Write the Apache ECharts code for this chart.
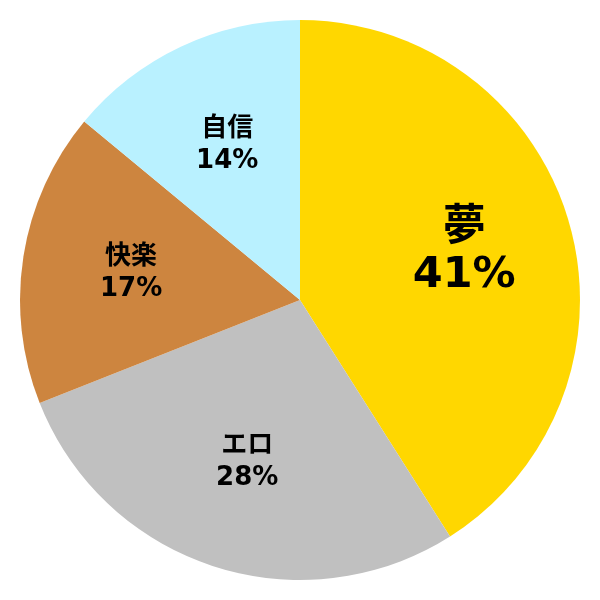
<!DOCTYPE html>
<html><head><meta charset="utf-8">
<script src="https://cdn.jsdelivr.net/npm/echarts@6/dist/echarts.min.js"></script>
<style>html,body{margin:0;padding:0;background:#fff}#c{width:600px;height:600px}</style>
</head><body><div id="c"></div>
<script>
const categories = ['夢', 'エロ', '快楽', '自信'];
const values = [41, 28, 17, 14];
const colors = ['#FFD700', '#C0C0C0', '#CD853F', '#B9F1FF'];
const labelSizes = [43, 26, 26, 26];
const labelLineHeights = [47, 32, 32, 32];

const chart = echarts.init(document.getElementById('c'), null, {renderer: 'canvas'});
const font = '"DejaVu Sans", "Noto Sans CJK JP", sans-serif';
chart.setOption({
  animation: false,
  series: [
    {
      type: 'pie', radius: 280, center: [300, 300], startAngle: 90, clockwise: true,
      label: {show: false}, labelLine: {show: false}, silent: true,
      data: categories.map((n, i) => ({name: n, value: values[i], itemStyle: {color: colors[i]}}))
    },
    {
      type: 'pie', radius: [56, 280], center: [300, 300], startAngle: 90, clockwise: true,
      silent: true, labelLine: {show: false},
      itemStyle: {color: 'rgba(0,0,0,0)'},
      label: {
        show: true, position: 'inside',
        formatter: p => p.name + '\n' + p.value + '%'
      },
      data: categories.map((n, i) => ({
        name: n, value: values[i],
        label: {fontSize: labelSizes[i], lineHeight: labelLineHeights[i], fontWeight: 'bold', color: '#000', fontFamily: font}
      }))
    }
  ]
});
</script></body></html>
